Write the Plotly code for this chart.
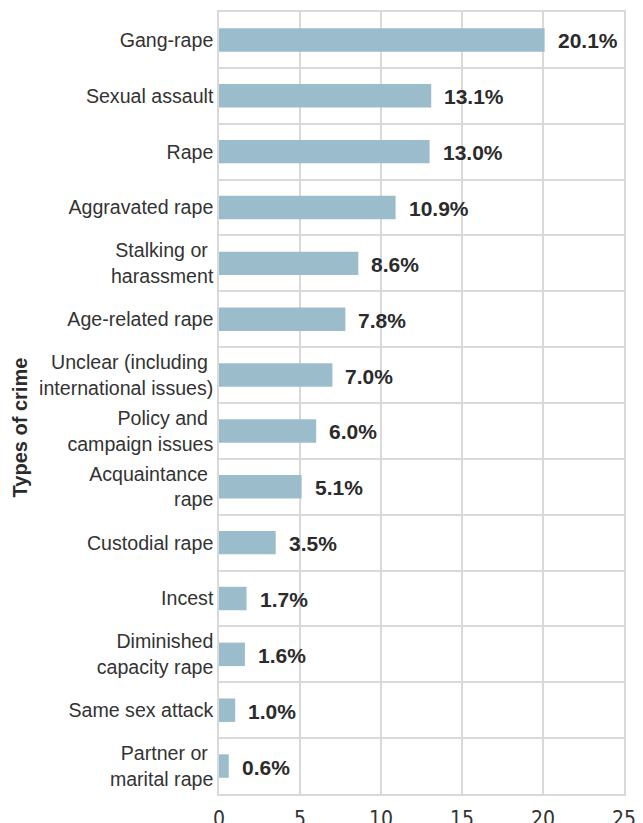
import plotly.graph_objects as go

categories = [
    "Gang-rape",
    "Sexual assault",
    "Rape",
    "Aggravated rape",
    "Stalking or\u00a0<br>harassment",
    "Age-related rape",
    "Unclear (including\u00a0<br>international issues)",
    "Policy and\u00a0<br>campaign issues",
    "Acquaintance\u00a0<br>rape",
    "Custodial rape",
    "Incest",
    "Diminished<br>capacity rape",
    "Same sex attack",
    "Partner or\u00a0<br>marital rape",
]
values = [20.1, 13.1, 13.0, 10.9, 8.6, 7.8, 7.0, 6.0, 5.1, 3.5, 1.7, 1.6, 1.0, 0.6]
value_labels = ["20.1%", "13.1%", "13.0%", "10.9%", "8.6%", "7.8%", "7.0%",
                "6.0%", "5.1%", "3.5%", "1.7%", "1.6%", "1.0%", "0.6%"]
x_ticks = [0, 5, 10, 15, 20, 25]

BAR = "#9bbccb"
GRID = "#d9d9d9"

fig = go.Figure(go.Bar(
    x=values, y=categories, orientation="h",
    marker=dict(color=BAR, line=dict(width=0)),
    width=0.42, hoverinfo="skip",
))

for v, c, t in zip(values, categories, value_labels):
    fig.add_annotation(x=v, y=c, text="<b>%s</b>" % t, showarrow=False,
                       xanchor="left", yanchor="middle", xshift=11, yshift=-1,
                       font=dict(family="Liberation Sans, Arial, sans-serif", size=21, color="#2b2b2b"))

fig.add_annotation(xref="paper", yref="paper", x=-0.491, y=0.469,
                   text="<b>Types of crime</b>", textangle=-90, showarrow=False,
                   xanchor="center", yanchor="middle",
                   font=dict(family="Liberation Sans, Arial, sans-serif", size=20, color="#2b2b2b"))

fig.update_layout(
    width=643, height=823,
    margin=dict(l=211, r=27, t=4, b=37, autoexpand=False),
    paper_bgcolor="white", plot_bgcolor="white",
    showlegend=False,
    xaxis=dict(range=[0, 25], tickvals=x_ticks, ticktext=[str(t) for t in x_ticks],
               showgrid=True, gridcolor=GRID, gridwidth=1.5, zeroline=False,
               showline=True, linecolor=GRID, linewidth=1.5, mirror=True,
               ticks="outside", ticklen=5, tickcolor="rgba(0,0,0,0)",
               tickfont=dict(family="Liberation Sans Narrow, DejaVu Sans Condensed, Roboto, sans-serif",
                             size=21, color="#333333"),
               automargin=False, fixedrange=True),
    yaxis=dict(type="category", categoryorder="array", categoryarray=categories,
               autorange="reversed", tickson="boundaries",
               showgrid=True, gridcolor=GRID, gridwidth=1.5,
               showline=True, linecolor=GRID, linewidth=1.5, mirror=True,
               ticks="outside", ticklen=6, tickcolor="rgba(0,0,0,0)",
               tickfont=dict(family="Liberation Sans, Arial, sans-serif", size=19.6, color="#333333"),
               automargin=False, fixedrange=True),
)

fig.write_html("out.html")
